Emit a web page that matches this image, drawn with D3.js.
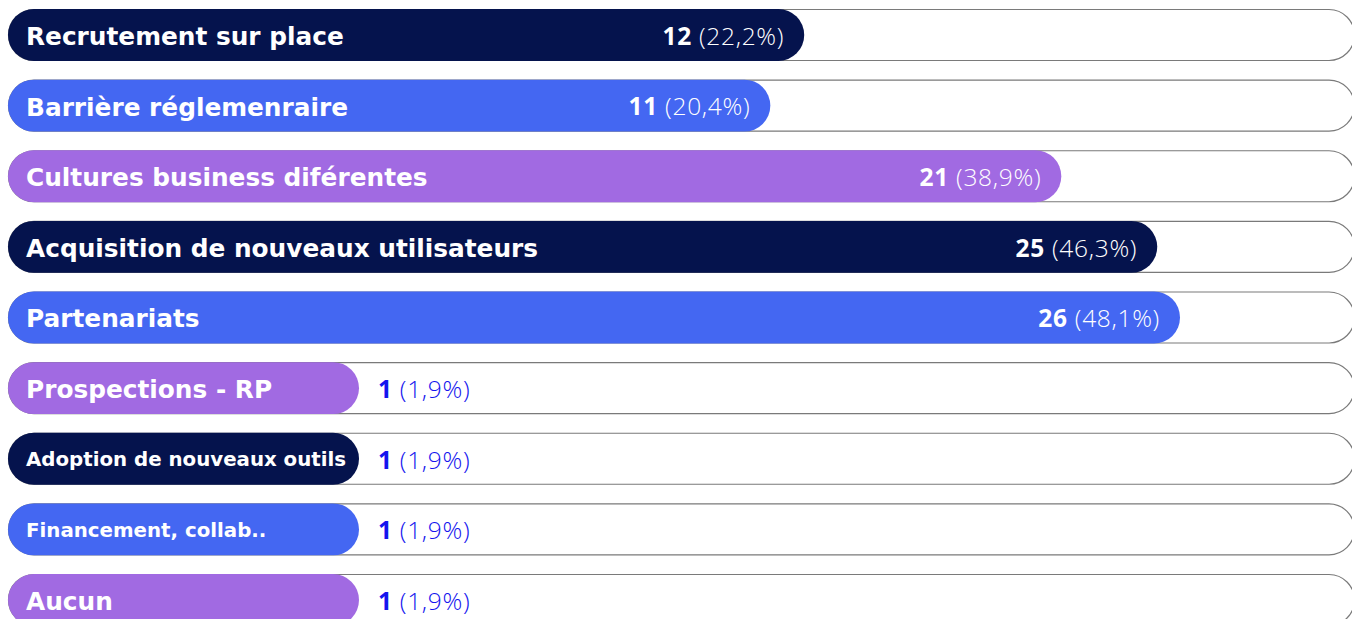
<!DOCTYPE html>
<html>
<head>
<meta charset="utf-8">
<script src="https://cdn.jsdelivr.net/npm/d3@7"></script>
<style>
  html, body { margin: 0; padding: 0; background: #ffffff; overflow: hidden; }
  svg { display: block; }
</style>
</head>
<body>
<svg id="chart" width="1352" height="619"></svg>
<script>
// Survey answers: counts out of all respondents, with their shares
const categories = [
  "Recrutement sur place",
  "Barrière réglemenraire",
  "Cultures business diférentes",
  "Acquisition de nouveaux utilisateurs",
  "Partenariats",
  "Prospections - RP",
  "Adoption de nouveaux outils",
  "Financement, collab..",
  "Aucun"
];
const counts = [12, 11, 21, 25, 26, 1, 1, 1, 1];
const shares = ["22,2%", "20,4%", "38,9%", "46,3%", "48,1%", "1,9%", "1,9%", "1,9%", "1,9%"];

// Visual styling
const palette = ["#05134d", "#4467f2", "#a16ae2"];
const compactLabels = new Set(["Adoption de nouveaux outils", "Financement, collab.."]);
const fontFamily = "'DejaVu Sans', 'Open Sans', sans-serif";

const W = 1352, H = 619;
const left = 8, trackRight = 1352;
const minBar = 351;     // pills never get shorter than the label they carry

const svg = d3.select("#chart");

const y = d3.scaleBand()
  .domain(categories)
  .range([9, 626])
  .paddingInner(0.264)
  .paddingOuter(0);

const x = d3.scaleSqrt()
  .domain([0, 26])
  .range([0, 1172]);

const bh = y.bandwidth();
const barW = v => Math.max(x(v), minBar);

const rows = svg.selectAll("g.row")
  .data(categories.map((c, i) => ({ label: c, count: counts[i], share: shares[i], i })))
  .join("g")
  .attr("class", "row")
  .attr("transform", d => `translate(0,${y(d.label)})`);

// full-width outlined track
rows.append("rect")
  .attr("x", left + 0.5)
  .attr("y", 0.5)
  .attr("width", trackRight - left + 2)
  .attr("height", bh - 1)
  .attr("rx", (bh - 1) / 2)
  .attr("fill", "#ffffff")
  .attr("stroke", "#7a7a7a")
  .attr("stroke-width", 1.2);

// value pill
rows.append("rect")
  .attr("x", left)
  .attr("y", 0)
  .attr("width", d => barW(d.count))
  .attr("height", bh)
  .attr("rx", bh / 2)
  .attr("fill", d => palette[d.i % 3]);

// category label
rows.append("text")
  .attr("x", 26)
  .attr("y", bh / 2)
  .attr("dy", d => compactLabels.has(d.label) ? "0.38em" : "0.4em")
  .attr("fill", "#ffffff")
  .attr("font-family", fontFamily)
  .attr("font-weight", 700)
  .attr("font-size", d => compactLabels.has(d.label) ? 19.8 : 24.8)
  .text(d => d.label);

// count + share
const inside = d => x(d.count) > minBar;
const val = rows.append("text")
  .attr("x", d => inside(d) ? left + barW(d.count) - 20 : left + barW(d.count) + 19)
  .attr("y", bh / 2)
  .attr("dy", "0.4em")
  .attr("text-anchor", d => inside(d) ? "end" : "start")
  .attr("fill", d => inside(d) ? "#ffffff" : "#1414ee")
  .attr("font-family", "'Open Sans', 'Lato', sans-serif")
  .attr("font-size", 24.5)
  .attr("letter-spacing", 0.7);

val.append("tspan")
  .attr("font-weight", 700)
  .text(d => d.count);
val.append("tspan")
  .attr("font-weight", 300)
  .text(d => ` (${d.share})`);
</script>
</body>
</html>
